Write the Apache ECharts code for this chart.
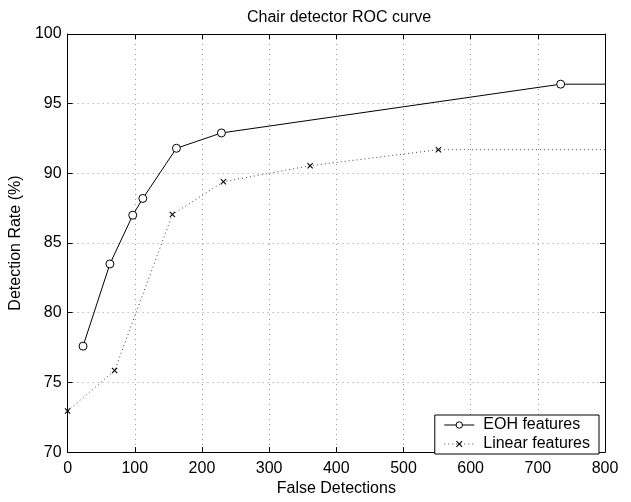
<!DOCTYPE html>
<html>
<head>
<meta charset="utf-8">
<script src="https://cdn.jsdelivr.net/npm/echarts@6/dist/echarts.min.js"></script>
<style>
html,body{margin:0;padding:0;background:#fff;}
#chart{width:631px;height:502px;}
</style>
</head>
<body>
<div id="chart"></div>
<script>
// ---- data ----
var titleText = 'Chair detector ROC curve';
var xLabel = 'False Detections';
var yLabel = 'Detection Rate (%)';
var seriesNames = ['EOH features', 'Linear features'];

var eohX = [23, 63, 97, 112, 162, 229, 734, 800];
var eohY = [77.6, 83.5, 87.0, 88.2, 91.8, 92.9, 96.4, 96.4];

var linX = [0, 70, 156, 232, 361, 552, 800];
var linY = [72.95, 75.85, 87.05, 89.4, 90.55, 91.7, 91.7];

var xTicks = [0, 100, 200, 300, 400, 500, 600, 700, 800];
var yTicks = [70, 75, 80, 85, 90, 95, 100];

// ---- chart ----
var FONT = '"Liberation Sans", Arial, Helvetica, sans-serif';
var FS = 16;
var chart = echarts.init(document.getElementById('chart'), null, {renderer: 'canvas'});

function buildData(xs, ys) {
  return xs.map(function (x, i) {
    var item = {value: [x, ys[i]]};
    if (i === xs.length - 1) item.symbol = 'none';
    return item;
  });
}

var crossPath = 'path://M0,1.2L1.2,0L5,3.8L8.8,0L10,1.2L6.2,5L10,8.8L8.8,10L5,6.2L1.2,10L0,8.8L3.8,5Z';

var axisCommon = {
  axisLine: {show: true, onZero: false, lineStyle: {color: '#000', width: 1}},
  axisTick: {show: true, inside: true, length: 5, lineStyle: {color: '#000'}},
};

var option = {
  animation: false,
  backgroundColor: '#fff',
  textStyle: {fontFamily: FONT},
  title: {
    text: titleText,
    left: 334,
    textAlign: 'center',
    top: 5,
    textStyle: {fontFamily: FONT, fontSize: FS, fontWeight: 'normal', color: '#000'}
  },
  grid: {left: 63, right: 26, top: 34, bottom: 42, containLabel: false},
  legend: {
    orient: 'vertical',
    right: 32,
    bottom: 48,
    backgroundColor: '#fff',
    borderColor: '#000',
    borderWidth: 1,
    borderRadius: 0,
    padding: [2, 9, 2, 9],
    itemGap: 3,
    itemWidth: 30,
    itemHeight: 8,
    lineStyle: {width: 1},
    itemStyle: {borderWidth: 1},
    textStyle: {fontFamily: FONT, fontSize: FS, color: '#000', padding: [0, 0, 0, 4]},
    data: seriesNames
  },
  xAxis: [
    Object.assign({
      type: 'value', min: xTicks[0], max: xTicks[xTicks.length - 1], interval: 100,
      position: 'bottom',
      name: xLabel, nameLocation: 'middle', nameGap: 25,
      nameTextStyle: {fontFamily: FONT, fontSize: FS, color: '#000'},
      axisLabel: {margin: 8, fontFamily: FONT, fontSize: FS, color: '#000'},
      splitLine: {show: true, lineStyle: {color: '#999', width: 1, type: [1, 4]}}
    }, axisCommon),
    Object.assign({
      type: 'value', min: xTicks[0], max: xTicks[xTicks.length - 1], interval: 100,
      position: 'top',
      axisLabel: {show: false},
      splitLine: {show: false}
    }, axisCommon)
  ],
  yAxis: [
    Object.assign({
      type: 'value', min: yTicks[0], max: yTicks[yTicks.length - 1], interval: 5,
      position: 'left',
      name: yLabel, nameLocation: 'middle', nameGap: 37,
      nameTextStyle: {fontFamily: FONT, fontSize: FS, color: '#000'},
      axisLabel: {margin: 6, fontFamily: FONT, fontSize: FS, color: '#000'},
      splitLine: {show: true, lineStyle: {color: '#999', width: 1, type: [1, 4]}}
    }, axisCommon),
    Object.assign({
      type: 'value', min: yTicks[0], max: yTicks[yTicks.length - 1], interval: 5,
      position: 'right',
      axisLabel: {show: false},
      splitLine: {show: false}
    }, axisCommon)
  ],
  series: [
    {
      name: seriesNames[0],
      type: 'line',
      data: buildData(eohX, eohY),
      symbol: 'circle',
      symbolSize: 8,
      showAllSymbol: true,
      color: '#000',
      lineStyle: {color: '#000', width: 1, type: 'solid'},
      itemStyle: {color: '#fff', borderColor: '#000', borderWidth: 1},
      emphasis: {disabled: true}
    },
    {
      name: seriesNames[1],
      type: 'line',
      data: buildData(linX, linY),
      symbol: crossPath,
      symbolSize: 6,
      showAllSymbol: true,
      color: '#000',
      lineStyle: {color: '#444', width: 1, type: [1, 3]},
      itemStyle: {color: '#000', borderWidth: 0},
      emphasis: {disabled: true}
    }
  ]
};
chart.setOption(option);
</script>
</body>
</html>
